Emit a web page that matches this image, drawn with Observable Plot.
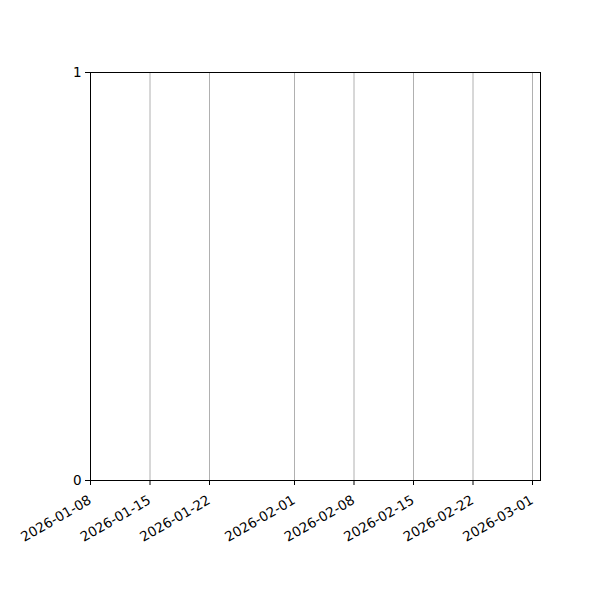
<!DOCTYPE html>
<html>
<head>
<meta charset="utf-8">
<script src="https://cdn.jsdelivr.net/npm/d3@7"></script>
<script src="https://cdn.jsdelivr.net/npm/@observablehq/plot@0.6"></script>
<style>
  html, body { margin: 0; padding: 0; background: #fff; }
  #chart { width: 600px; height: 600px; }
</style>
</head>
<body>
<div id="chart"></div>
<script>
const xTickLabels = ["2026-01-08", "2026-01-15", "2026-01-22", "2026-02-01", "2026-02-08", "2026-02-15", "2026-02-22", "2026-03-01"];
const xDomain = ["2026-01-08T00:00", "2026-03-01T22:35"];
const yTicks = [0, 1];
const yDomain = [0, 1];

const parse = s => new Date(s.length === 10 ? s + "T00:00" : s);
const xTicks = xTickLabels.map(parse);
const fmt = d3.timeFormat("%Y-%m-%d");

const chart = Plot.plot({
  width: 600,
  height: 600,
  marginTop: 72,
  marginBottom: 120,
  marginLeft: 90,
  marginRight: 60,
  style: { fontFamily: "DejaVu Sans", fontSize: "13px", color: "black", background: "white" },
  x: { type: "time", domain: xDomain.map(parse) },
  y: { domain: yDomain },
  marks: [
    Plot.gridX(xTicks, { stroke: "#b0b0b0", strokeOpacity: 1, strokeWidth: 1 }),
    Plot.frame({ stroke: "black", strokeWidth: 1 }),
    Plot.axisX(xTicks, {
      tickSize: 5,
      tickFormat: () => "",
      label: null,
      stroke: "black"
    }),
    Plot.text(xTicks, {
      x: d => d,
      frameAnchor: "bottom",
      text: d => fmt(d),
      rotate: -30,
      textAnchor: "end",
      lineAnchor: "top",
      dx: -3,
      dy: 14,
      fontSize: 13.5,
      fill: "black"
    }),
    Plot.axisY(yTicks, {
      tickSize: 5,
      tickPadding: 4,
      tickFormat: d => String(d),
      label: null,
      stroke: "black",
      fontSize: 13.5
    })
  ]
});
document.getElementById("chart").appendChild(chart);
</script>
</body>
</html>
